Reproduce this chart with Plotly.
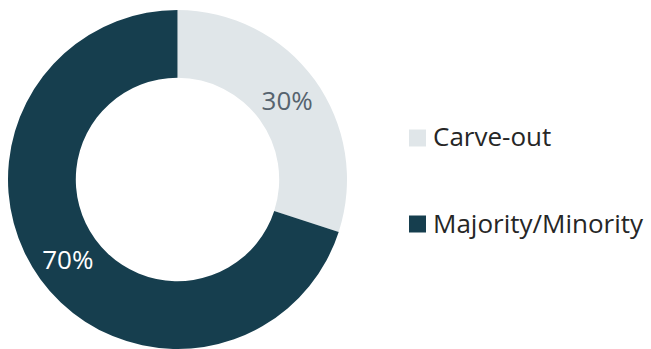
import plotly.graph_objects as go

labels = ["Carve-out", "Majority/Minority"]
values = [30, 70]
colors = ["#E0E6E9", "#163E4E"]
text_colors = ["#56636E", "#FFFFFF"]

W, H = 651, 349
fig = go.Figure()
fig.add_trace(go.Pie(
    labels=labels, values=values, hole=0.6, sort=False,
    direction="clockwise", rotation=0,
    marker=dict(colors=colors, line=dict(width=0)),
    textinfo="percent", texttemplate="%{percent:.0%}",
    textposition="inside", insidetextorientation="horizontal",
    textfont=dict(family="Open Sans", size=26, color=text_colors),
    domain=dict(x=[7 / W, 348 / W], y=[0, 339 / H]),
    showlegend=False, hoverinfo="label+percent",
))

# custom legend
leg_y = [138, 224]
text_y = [136, 223]
for lab, col, yc, ty in zip(labels, colors, leg_y, text_y):
    fig.add_shape(type="rect", xref="paper", yref="paper",
                  x0=409 / W, x1=426 / W, y0=1 - (yc + 8.5) / H, y1=1 - (yc - 8.5) / H,
                  fillcolor=col, line=dict(width=0))
    fig.add_annotation(x=431 / W, y=1 - ty / H, xref="paper", yref="paper",
                       text=lab, showarrow=False, xanchor="left", yanchor="middle",
                       font=dict(family="Open Sans", size=26, color="#262626"))

fig.update_layout(width=W, height=H, margin=dict(l=0, r=0, t=0, b=0),
                  paper_bgcolor="white", plot_bgcolor="white")
fig.write_html("out.html")
